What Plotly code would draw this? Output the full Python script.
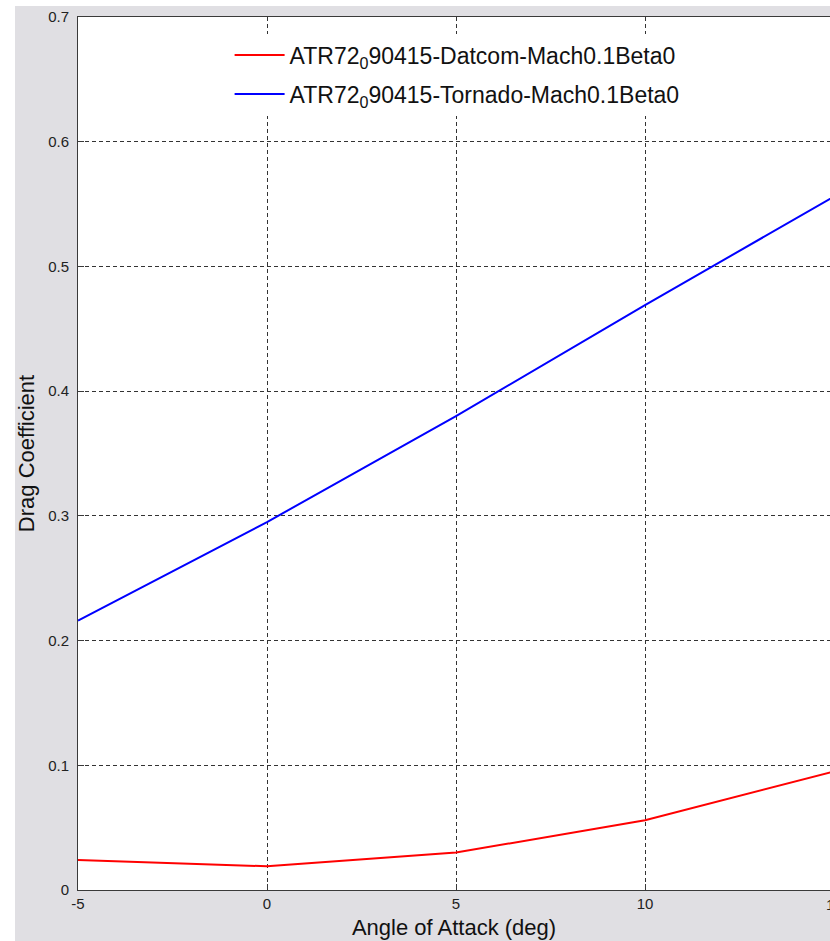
import plotly.graph_objects as go

# Drag coefficient vs angle of attack, ATR72 at Mach 0.1, sideslip 0
alpha_deg = [-5, 0, 5, 10, 15]
cd_datcom = [0.024, 0.019, 0.030, 0.056, 0.095]
cd_tornado = [0.216, 0.295, 0.380, 0.469, 0.556]

x_tick_vals = [-5, 0, 5, 10, 15]
x_tick_text = ["-5", "0", "5", "10", "15"]
y_tick_vals = [0, 0.1, 0.2, 0.3, 0.4, 0.5, 0.6, 0.7]
y_tick_text = ["0", "0.1", "0.2", "0.3", "0.4", "0.5", "0.6", "0.7"]

name_datcom = "ATR72<sub>0</sub>90415-Datcom-Mach0.1Beta0"
name_tornado = "ATR72<sub>0</sub>90415-Tornado-Mach0.1Beta0"

W, H = 830, 941
M_L, M_R, M_T, M_B = 78, 0, 17, 51
# the axis box runs a few pixels past the right edge of the window
x_lo, x_hi_full = -5, 15
px_per_unit = 37.8
x_hi = x_lo + (W - M_L - M_R) / px_per_unit

FONT = "Liberation Sans, Arial, Helvetica, sans-serif"
AXIS_COL = "#3a3a3a"
FIG_BG = "#e0dfe3"
TICK_FONT = dict(family=FONT, size=15, color="#222222")

fig = go.Figure()
fig.add_trace(go.Scatter(x=alpha_deg, y=cd_datcom, mode="lines", name=name_datcom,
                         line=dict(color="#ff0000", width=2), legendgroup="a"))
fig.add_trace(go.Scatter(x=alpha_deg, y=cd_tornado, mode="lines", name=name_tornado,
                         line=dict(color="#0000ff", width=2), legendgroup="b"))

grid = dict(showgrid=True, gridcolor="#333333", gridwidth=1, griddash="4px,3px",
            showline=True, linecolor=AXIS_COL, linewidth=1, mirror=True,
            ticks="inside", ticklen=6, tickcolor=AXIS_COL, zeroline=False,
            tickfont=TICK_FONT)

fig.update_xaxes(range=[x_lo, x_hi], tickmode="array", tickvals=x_tick_vals,
                 ticktext=x_tick_text,
                 title=dict(text="Angle of Attack (deg)", standoff=8,
                            font=dict(family=FONT, size=22, color="#111111")),
                 **grid)
fig.update_yaxes(range=[0, 0.7], tickmode="array", tickvals=y_tick_vals,
                 ticktext=y_tick_text, ticklabelstandoff=5,
                 title=dict(text="Drag Coefficient", standoff=7,
                            font=dict(family=FONT, size=22, color="#111111")),
                 **grid)

# figure window background (light gray) with the white axes box on top
plot_w = W - M_L - M_R
plot_h = H - M_T - M_B
fig.add_shape(type="rect", xref="paper", yref="paper", layer="below",
              x0=(15 - M_L) / plot_w, x1=1.2,
              y0=-(M_B + 10) / plot_h, y1=1 + (M_T - 6) / plot_h,
              fillcolor=FIG_BG, line=dict(width=0))
fig.add_shape(type="rect", xref="paper", yref="paper", layer="below",
              x0=0, x1=1.2, y0=0, y1=1,
              fillcolor="white", line=dict(width=0))

# label of the last tick, which sits just past the visible edge
fig.add_annotation(xref="paper", yref="paper",
                   x=(x_hi_full - x_lo) / (x_hi - x_lo), y=0,
                   text="15", showarrow=False, yanchor="top", xanchor="center",
                   yshift=-4, font=TICK_FONT)

fig.update_layout(
    width=W, height=H,
    margin=dict(l=M_L, r=M_R, t=M_T, b=M_B),
    paper_bgcolor="white", plot_bgcolor="rgba(0,0,0,0)",
    showlegend=True,
    legend=dict(x=0.2016, y=0.981, xanchor="left", yanchor="top",
                bgcolor="white", borderwidth=0, traceorder="grouped",
                tracegroupgap=6, itemwidth=50,
                font=dict(family=FONT, size=23, color="#111111")),
)

fig.write_html("out.html")
